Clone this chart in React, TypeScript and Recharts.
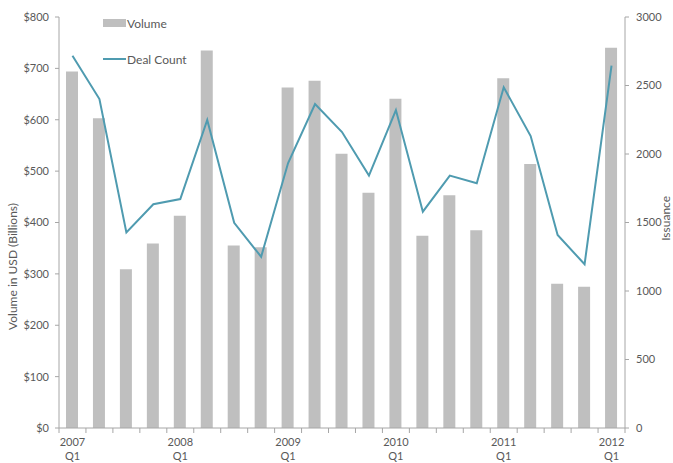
import React from 'react';
import { ComposedChart, Bar, Line, XAxis, YAxis, Legend } from 'recharts';

const categories = ['2007 Q1','2007 Q2','2007 Q3','2007 Q4','2008 Q1','2008 Q2','2008 Q3','2008 Q4','2009 Q1','2009 Q2','2009 Q3','2009 Q4','2010 Q1','2010 Q2','2010 Q3','2010 Q4','2011 Q1','2011 Q2','2011 Q3','2011 Q4','2012 Q1'];
const volume = [694, 603, 309, 359, 413, 735, 355, 352, 663, 676, 534, 458, 641, 374, 453, 385, 681, 514, 281, 275, 740];
const dealCount = [2717, 2401, 1428, 1633, 1671, 2248, 1498, 1250, 1934, 2365, 2160, 1842, 2321, 1579, 1842, 1786, 2487, 2131, 1409, 1195, 2645];
const volumeTicks = [0, 100, 200, 300, 400, 500, 600, 700, 800];
const issuanceTicks = [0, 500, 1000, 1500, 2000, 2500, 3000];

const data = categories.map((c, i) => ({ cat: c, volume: volume[i], deals: dealCount[i] }));

const FONT = 'Lato, "Open Sans", sans-serif';
const TEXT = '#595959';
const AXIS = '#a6a6a6';
const BAR = '#bfbfbf';
const LINE = '#4f9bb0';

const XTick = (props: any) => {
  const { x, y, payload, index, width } = props;
  const n = categories.length;
  const step = (width || 566) / n;
  const [yr, q] = String(payload.value).split(' ');
  const show = q === 'Q1';
  return (
    <g>
      <line x1={x - step / 2} x2={x - step / 2} y1={y} y2={y + 5} stroke={AXIS} />
      {index === n - 1 && <line x1={x + step / 2} x2={x + step / 2} y1={y} y2={y + 5} stroke={AXIS} />}
      {show && (
        <text x={x} y={y + 18} textAnchor="middle" fill={TEXT} fontSize={11} fontFamily={FONT}>{yr}</text>
      )}
      {show && (
        <text x={x} y={y + 32} textAnchor="middle" fill={TEXT} fontSize={11} fontFamily={FONT}>{q}</text>
      )}
    </g>
  );
};

const LeftLabel = (props: any) => {
  const { viewBox } = props;
  const cx = viewBox.x + 13;
  const cy = viewBox.y + viewBox.height * 0.607;
  return (
    <text x={cx} y={cy} transform={`rotate(-90 ${cx} ${cy})`} textAnchor="middle" dominantBaseline="central" fill={TEXT} fontSize={12} fontFamily={FONT}>
      Volume in USD (Billions)
    </text>
  );
};

const RightLabel = (props: any) => {
  const { viewBox } = props;
  const cx = viewBox.x + 41;
  const cy = viewBox.y + viewBox.height * 0.49;
  return (
    <text x={cx} y={cy} transform={`rotate(-90 ${cx} ${cy})`} textAnchor="middle" dominantBaseline="central" fill={TEXT} fontSize={12} fontFamily={FONT}>
      Issuance
    </text>
  );
};

const LegendContent = (props: any) => {
  const items = [...(props.payload || [])].sort((a: any, b: any) => (a.type === 'line' ? 1 : 0) - (b.type === 'line' ? 1 : 0));
  return (
    <div style={{ fontFamily: FONT, fontSize: 12, color: TEXT }}>
      {items.map((e: any, i: number) => (
        <div key={i} style={{ display: 'flex', alignItems: 'center', height: 18, marginBottom: i === 0 ? 18 : 0 }}>
          <svg width={23} height={10} style={{ display: 'block' }}>
            {e.type === 'line' ? (
              <line x1={0} x2={23} y1={5} y2={5} stroke={e.color} strokeWidth={2} />
            ) : (
              <rect x={0} y={1} width={23} height={8} fill={e.color} />
            )}
          </svg>
          <span style={{ marginLeft: 1 }}>{e.value}</span>
        </div>
      ))}
    </div>
  );
};

export default function App() {
  return (
    <div style={{ position: 'absolute', left: 0, top: 0, background: '#fff' }}>
      <ComposedChart width={673} height={463} data={data} margin={{ top: 17, right: 0, bottom: 5, left: 0 }}>
        <XAxis
          dataKey="cat"
          interval={0}
          height={30}
          tickLine={false}
          tickSize={0}
          tickMargin={0}
          axisLine={{ stroke: AXIS }}
          tick={<XTick />}
        />
        <YAxis
          yAxisId="left"
          width={59}
          domain={[0, 800]}
          ticks={volumeTicks}
          interval={0}
          tickFormatter={(v: number) => `$${v}`}
          tickSize={4}
          tickMargin={6}
          axisLine={{ stroke: AXIS }}
          tickLine={{ stroke: AXIS }}
          tick={{ fill: TEXT, fontSize: 11, fontFamily: FONT }}
          label={<LeftLabel />}
        />
        <YAxis
          yAxisId="right"
          orientation="right"
          width={48}
          domain={[0, 3000]}
          ticks={issuanceTicks}
          interval={0}
          tickSize={4}
          tickMargin={7}
          axisLine={{ stroke: AXIS }}
          tickLine={{ stroke: AXIS }}
          tick={{ fill: TEXT, fontSize: 11, fontFamily: FONT, textAnchor: 'start' }}
          label={<RightLabel />}
        />
        <Legend
          layout="vertical"
          align="center"
          verticalAlign="middle"
          content={<LegendContent />}
          wrapperStyle={{ position: 'absolute', top: 14, left: 103, width: 'auto', height: 'auto' }}
        />
        <Bar yAxisId="left" dataKey="volume" name="Volume" fill={BAR} barSize={12} legendType="rect" isAnimationActive={false} />
        <Line yAxisId="right" dataKey="deals" name="Deal Count" stroke={LINE} strokeWidth={2} dot={false} legendType="line" type="linear" isAnimationActive={false} />
      </ComposedChart>
    </div>
  );
}
